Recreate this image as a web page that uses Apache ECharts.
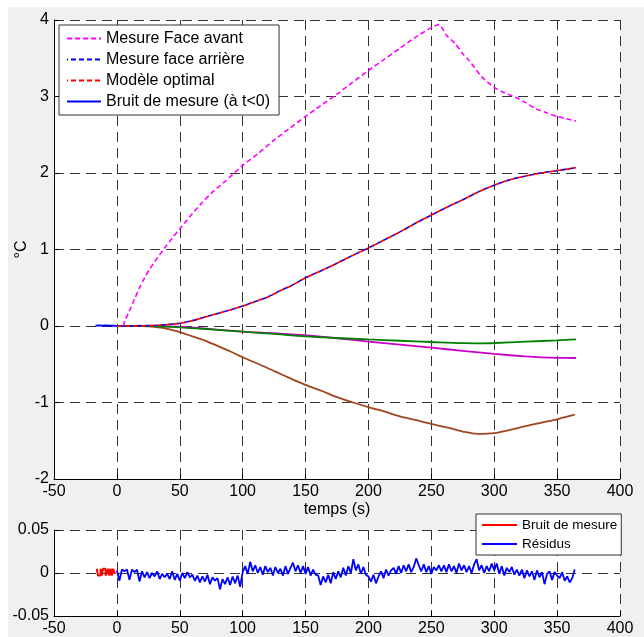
<!DOCTYPE html>
<html>
<head>
<meta charset="utf-8">
<script src="https://cdn.jsdelivr.net/npm/echarts@6/dist/echarts.min.js"></script>
<style>
  html, body { margin: 0; padding: 0; background: #ffffff; }
  #chart { width: 644px; height: 637px; }
</style>
</head>
<body>
<div id="chart"></div>
<script>
// ---- Upper panel: temperatures (°C) versus time (s) ----
const faceAvantT = [5, 7, 10, 14, 18, 22, 26, 30, 38, 44, 50, 58, 67, 76, 86, 100, 112, 125, 137, 150, 162, 175, 187, 200, 212, 225, 237, 250, 256, 262, 269, 275, 280, 290, 300, 308, 317, 325, 333, 341, 350, 357, 365];
const faceAvantV = [0, 0.09, 0.2, 0.35, 0.5, 0.63, 0.74, 0.84, 1.02, 1.15, 1.27, 1.43, 1.6, 1.75, 1.89, 2.1, 2.25, 2.43, 2.58, 2.74, 2.88, 3.03, 3.18, 3.34, 3.48, 3.63, 3.77, 3.9, 3.94, 3.8, 3.69, 3.56, 3.47, 3.26, 3.12, 3.05, 2.99, 2.92, 2.84, 2.79, 2.74, 2.71, 2.68];

const faceArriereT = [0, 10, 20, 30, 40, 50, 60, 75, 90, 100, 110, 120, 131, 139, 150, 162, 175, 187, 200, 212, 225, 237, 250, 262, 275, 287, 300, 312, 325, 337, 350, 365];
const faceArriereV = [0.004, -0.003, 0.005, 0.006, 0.02, 0.036, 0.07, 0.14, 0.21, 0.26, 0.32, 0.38, 0.47, 0.53, 0.63, 0.72, 0.82, 0.92, 1.02, 1.12, 1.23, 1.34, 1.45, 1.55, 1.65, 1.75, 1.84, 1.91, 1.96, 2.0, 2.03, 2.07];

const modeleT = [0, 10, 20, 30, 40, 50, 60, 75, 90, 100, 110, 120, 131, 139, 150, 162, 175, 187, 200, 212, 225, 237, 250, 262, 275, 287, 300, 312, 325, 337, 350, 365];
const modeleV = [0, 0, 0.002, 0.008, 0.018, 0.035, 0.07, 0.14, 0.21, 0.26, 0.32, 0.38, 0.47, 0.53, 0.63, 0.72, 0.82, 0.92, 1.02, 1.12, 1.23, 1.34, 1.45, 1.55, 1.65, 1.75, 1.84, 1.91, 1.96, 2.0, 2.03, 2.07];

const bruitInitT = [-17, -14, -12, -9, -6, -3, 0];
const bruitInitV = [0.005, 0.008, 0.004, 0.007, 0.003, 0.006, 0.002];

const courbeVerteT = [0, 20, 30, 40, 50, 75, 100, 125, 150, 175, 200, 225, 250, 275, 290, 300, 325, 350, 365];
const courbeVerteV = [0, 0, -0.003, -0.008, -0.017, -0.045, -0.074, -0.104, -0.135, -0.157, -0.176, -0.193, -0.209, -0.224, -0.226, -0.222, -0.205, -0.187, -0.174];

const courbeVioletteT = [0, 25, 35, 50, 75, 100, 125, 150, 175, 200, 225, 250, 275, 300, 325, 337, 350, 365];
const courbeVioletteV = [0, 0, -0.003, -0.01, -0.04, -0.074, -0.095, -0.12, -0.16, -0.204, -0.243, -0.283, -0.325, -0.365, -0.398, -0.41, -0.417, -0.418];

const courbeBruneT = [0, 20, 25, 30, 35, 40, 45, 50, 60, 70, 80, 90, 100, 113, 126, 138, 150, 163, 175, 188, 200, 213, 225, 238, 250, 263, 275, 287, 300, 312, 325, 337, 350, 364];
const courbeBruneV = [0, 0, -0.003, -0.01, -0.022, -0.038, -0.058, -0.08, -0.135, -0.19, -0.26, -0.33, -0.409, -0.5, -0.596, -0.685, -0.77, -0.85, -0.93, -1.0, -1.06, -1.12, -1.18, -1.23, -1.28, -1.33, -1.38, -1.41, -1.4, -1.36, -1.31, -1.265, -1.22, -1.16];

// ---- Lower panel: measurement noise and residuals ----
const bruitMesureT = [-16, -15, -14, -13, -12, -11, -10, -9, -8, -7, -6, -5, -4, -3, -2, -1];
const bruitMesureV = [0.005, 0.005, -0.003, -0.003, 0.005, -0.003, 0.005, 0.005, -0.003, 0, 0.005, -0.003, 0.005, -0.003, 0.005, 0];

const residusStart = 0;
const residusStep = 2;
// residuals in units of 1e-3 °C
const residusMilli = [
  3, -9, 4, 2, 4, -8, 4, 1, 4, -10,
  2, -5, 1, -6, 0, -4, 2, -7, -1, -5,
  -1, -7, 2, -8, -1, -9, 0, -6, 1, -5,
  -2, -9, -3, -11, -4, -10, -2, -13, -5, -9,
  -6, -19, -7, -13, -5, -14, -4, -12, -3, -16,
  1, 8, -1, 13, 2, 9, 0, 7, -2, 8,
  1, 6, -3, 7, 0, 5, -3, 8, -1, 6,
  12, 2, 9, 0, 8, -1, 7, -3, 4, -2,
  -3, -14, -4, -11, -2, -12, 1, -7, 2, -5,
  6, -3, 8, 0, 16, 3, 10, -1, 7, -2,
  -4, -10, -2, -12, -4, 2, -6, 4, -3, 3,
  6, -1, 8, 0, 9, 2, 10, 1, 7, 17,
  9, 2, 10, 1, 8, -1, 7, 3, 9, 2,
  9, 1, 10, 2, 8, 0, 11, 3, 9, 1,
  8, 0, 10, 16, 3, 9, 0, 8, 2, 11,
  3, 11, -1, 8, -3, 6, 1, 7, -2, 4,
  -3, 4, -6, 3, -4, 2, -8, 3, -5, 1,
  -13, -1, 2, -8, 1, -3, -6, 1, -9, -4,
  -11, -6, 4
];

// ---- Axis ticks ----
const xTicks = { min: -50, max: 400, step: 50 };
const yTicksHaut = { min: -2, max: 4, step: 1 };
const yTicksBas = { min: -0.05, max: 0.05, step: 0.05 };

function zip(ts, vs) { return ts.map((t, i) => [t, vs[i]]); }
const residus = residusMilli.map((v, i) => [residusStart + i * residusStep, v / 1000]);

const FONT = '"Liberation Sans", Arial, sans-serif';
const gridLine = { show: true, lineStyle: { color: '#333', type: [10, 6], width: 1 } };
const axisLine = { show: true, onZero: false, lineStyle: { color: '#000', width: 1 } };
const axisTick = { show: true, inside: true, length: 5, lineStyle: { color: '#000' } };
const tickLabel = { color: '#000', fontSize: 16, fontFamily: FONT, margin: 5, showMinLabel: true, showMaxLabel: true };

function xAxis(gridIndex, name) {
  return {
    type: 'value', gridIndex, min: xTicks.min, max: xTicks.max, interval: xTicks.step,
    axisLine, axisTick, splitLine: gridLine, axisLabel: tickLabel,
    name: name || '', nameLocation: 'middle', nameGap: 23, nameMoveOverlap: false,
    nameTextStyle: { color: '#000', fontSize: 16, fontFamily: FONT }
  };
}

const chart = echarts.init(document.getElementById('chart'), null, { renderer: 'canvas' });

const line = (name, data, color, width, type, extra) => Object.assign({
  name, type: 'line', data, xAxisIndex: 0, yAxisIndex: 0,
  symbol: 'none', showSymbol: false, animation: false,
  lineStyle: { color, width, type }, itemStyle: { color }
}, extra || {});

// legend entries show only the line sample, no marker
const legendMarker = { color: 'rgba(0,0,0,0)', borderWidth: 0, opacity: 0 };

chart.setOption({
  animation: false,
  backgroundColor: '#ffffff',
  graphic: [{
    type: 'rect', z: -10, silent: true,
    shape: { x: 8, y: 7, width: 636, height: 630 },
    style: { fill: '#f0f0f0' }
  }],
  grid: [
    { left: 54, top: 20, width: 566, height: 459, show: true, backgroundColor: '#ffffff', borderWidth: 0 },
    { left: 54, top: 530, width: 566, height: 88, show: true, backgroundColor: '#ffffff', borderWidth: 0 }
  ],
  xAxis: [xAxis(0, 'temps (s)'), xAxis(1)],
  yAxis: [
    {
      type: 'value', gridIndex: 0, min: yTicksHaut.min, max: yTicksHaut.max, interval: yTicksHaut.step,
      axisLine, axisTick, splitLine: gridLine, axisLabel: tickLabel,
      name: '°C', nameLocation: 'middle', nameGap: 24, nameRotate: 90, nameMoveOverlap: false,
      nameTextStyle: { color: '#000', fontSize: 16, fontFamily: FONT }
    },
    {
      type: 'value', gridIndex: 1, min: yTicksBas.min, max: yTicksBas.max, interval: yTicksBas.step,
      axisLine, axisTick, splitLine: gridLine, axisLabel: tickLabel
    }
  ],
  legend: [
    {
      data: ['Mesure Face avant', 'Mesure face arrière', 'Modèle optimal', 'Bruit de mesure (à t<0)'],
      orient: 'vertical', left: 59, top: 25,
      padding: [5, 9, 5, 7], itemWidth: 34, itemHeight: 17, itemGap: 4,
      backgroundColor: '#ffffff', borderColor: '#333', borderWidth: 1,
      itemStyle: legendMarker,
      textStyle: { color: '#000', fontSize: 16, fontFamily: FONT, lineHeight: 17 },
      selectedMode: false
    },
    {
      data: ['Bruit de mesure', 'Résidus'],
      orient: 'vertical', left: 476, top: 514,
      padding: [3, 4, 3, 5], itemWidth: 35, itemHeight: 16, itemGap: 3,
      backgroundColor: '#ffffff', borderColor: '#333', borderWidth: 1,
      itemStyle: legendMarker,
      textStyle: { color: '#000', fontSize: 13.5, fontFamily: FONT, lineHeight: 16 },
      selectedMode: false
    }
  ],
  series: [
    line('courbe_brune', zip(courbeBruneT, courbeBruneV), '#a0461e', 1.8, 'solid', { smooth: 0.3 }),
    line('courbe_violette', zip(courbeVioletteT, courbeVioletteV), '#c800c8', 1.8, 'solid', { smooth: 0.3 }),
    line('courbe_verte', zip(courbeVerteT, courbeVerteV), '#008000', 1.8, 'solid', { smooth: 0.3 }),
    line('Bruit de mesure (à t<0)', zip(bruitInitT, bruitInitV), '#0000ff', 1.8, 'solid'),
    line('Mesure face arrière', zip(faceArriereT, faceArriereV), '#0000ff', 1.6, [5, 3], { smooth: 0.3, lineStyle: { color: '#0000ff', width: 1.6, type: [5, 3], dashOffset: 4 } }),
    line('Modèle optimal', zip(modeleT, modeleV), '#ff0000', 1.6, [5, 3], { smooth: 0.3 }),
    line('Mesure Face avant', zip(faceAvantT, faceAvantV), '#ff00ff', 1.6, [5, 3], { smooth: 0.25 }),
    line('Bruit de mesure', zip(bruitMesureT, bruitMesureV), '#ff0000', 2, 'solid', { xAxisIndex: 1, yAxisIndex: 1, step: 'start' }),
    line('Résidus', residus, '#0000ff', 1.8, 'solid', { xAxisIndex: 1, yAxisIndex: 1 })
  ]
});
</script>
</body>
</html>
